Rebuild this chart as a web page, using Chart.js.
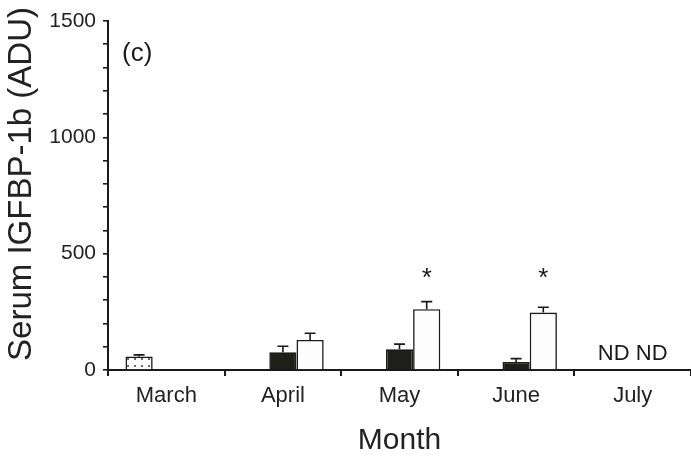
<!DOCTYPE html>
<html>
<head>
<meta charset="utf-8">
<script src="https://cdn.jsdelivr.net/npm/chart.js@4/dist/chart.umd.min.js"></script>
<style>
  html, body { margin: 0; padding: 0; background: #fff; }
  #wrap { width: 691px; height: 459px; }
</style>
</head>
<body>
<div id="wrap"><canvas id="chart"></canvas></div>
<script>
// data
const months = ['March', 'April', 'May', 'June', 'July']
const initialMeans = [58, null, null, null, null]
const initialErr = [7, null, null, null, null]
const darkMeans = [null, 76, 89, 34, null]
const darkErr = [null, 26, 22, 15, null]
const lightMeans = [null, 129, 261, 247, null]
const lightErr = [null, 29, 33, 23, null]
const starLevel = [null, null, 415, 415, null]
const notDetected = [null, null, null, null, 'ND ND']
const yMax = 1500
const yStep = 100
const yLabelStep = 500

const FONT = '"Liberation Sans", Arial, sans-serif'

// stippled fill for the March bar
function stipple(){
    const c = document.createElement('canvas')
    c.width = 7; c.height = 7
    const g = c.getContext('2d')
    g.fillStyle = '#fdfdfd'
    g.fillRect(0, 0, 7, 7)
    g.fillStyle = '#666'
    g.fillRect(1, 1, 2, 2)
    return g.createPattern(c, 'repeat')
}

const errs = [initialErr, darkErr, lightErr]

const extrasPlugin = {
    id: 'extras',
    afterDatasetsDraw(chart){
        const ctx = chart.ctx
        const y = chart.scales.y
        const x = chart.scales.x
        ctx.save()
        ctx.strokeStyle = '#1a1a1a'
        ctx.lineWidth = 1.6
        errs.forEach((err, di) => {
            const ds = chart.data.datasets[di]
            chart.getDatasetMeta(di).data.forEach((bar, j) => {
                if(err[j] == null || ds.data[j] == null) return
                const top = y.getPixelForValue(ds.data[j] + err[j])
                ctx.beginPath()
                ctx.moveTo(bar.x, bar.y)
                ctx.lineTo(bar.x, top)
                ctx.moveTo(bar.x - 5.5, top)
                ctx.lineTo(bar.x + 5.5, top)
                ctx.stroke()
            })
        })
        ctx.fillStyle = '#1a1a1a'
        ctx.textAlign = 'center'
        ctx.textBaseline = 'middle'
        ctx.font = '26px ' + FONT
        const lightBars = chart.getDatasetMeta(2).data
        starLevel.forEach((v, j) => {
            if(v == null) return
            ctx.fillText('*', lightBars[j].x, y.getPixelForValue(v) + 5)
        })
        ctx.font = '22px ' + FONT
        ctx.textBaseline = 'alphabetic'
        notDetected.forEach((t, j) => {
            if(!t) return
            ctx.fillText(t, x.getPixelForValue(j), y.getPixelForValue(0) - 10)
        })
        ctx.font = '26px ' + FONT
        ctx.textAlign = 'left'
        ctx.fillText('(c)', 122, 61)

        // y axis title
        ctx.fillStyle = '#222'
        ctx.font = '33px ' + FONT
        ctx.textAlign = 'center'
        ctx.translate(31, 184)
        ctx.rotate(-Math.PI / 2)
        ctx.fillText('Serum IGFBP-1b (ADU)', 0, 0)
        ctx.restore()
    }
}

new Chart(document.getElementById('chart'), {
    type: 'bar',
    data: {
        labels: months,
        datasets: [
            {label: 'Initial', data: initialMeans, backgroundColor: stipple(), borderColor: '#1a1a1a', borderWidth: 1.6},
            {label: 'Group 1', data: darkMeans, backgroundColor: '#1e1e1a', borderColor: '#1a1a1a', borderWidth: 1.6},
            {label: 'Group 2', data: lightMeans, backgroundColor: '#fdfdfd', borderColor: '#1a1a1a', borderWidth: 1.6}
        ]
    },
    options: {
        responsive: true,
        maintainAspectRatio: false,
        animation: false,
        categoryPercentage: 0.7,
        barPercentage: 1,
        layout: {padding: {top: 21, right: 0, left: 0, bottom: 0}},
        plugins: {legend: {display: false}, tooltip: {enabled: false}},
        scales: {
            x: {
                grid: {offset: true, drawOnChartArea: false, tickLength: 6, color: '#1a1a1a', lineWidth: 2},
                border: {color: '#1a1a1a', width: 2},
                ticks: {color: '#222', font: {family: FONT, size: 22}, padding: 7, maxRotation: 0},
                title: {display: true, text: 'Month', color: '#222', font: {family: FONT, size: 30}, padding: {top: 0, bottom: 0}},
                afterFit(s){ s.height = 89 }
            },
            y: {
                min: 0,
                max: yMax,
                grid: {drawOnChartArea: false, tickLength: 5, color: '#1a1a1a', lineWidth: 1.6},
                border: {color: '#1a1a1a', width: 2},
                ticks: {
                    stepSize: yStep,
                    autoSkip: false,
                    color: '#222',
                    font: {family: FONT, size: 21},
                    padding: 7,
                    callback: v => v % yLabelStep === 0 ? v : ''
                },
                afterFit(s){ s.width = 108 }
            }
        }
    },
    plugins: [extrasPlugin]
})
</script>
</body>
</html>
